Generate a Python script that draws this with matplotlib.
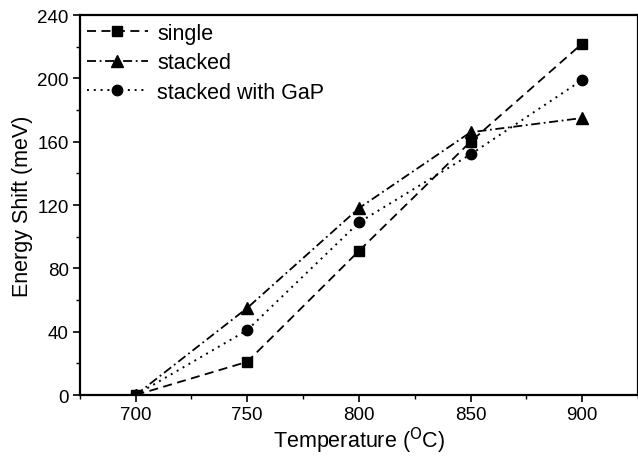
import matplotlib
matplotlib.use('Agg')
import matplotlib.pyplot as plt
from matplotlib.ticker import MultipleLocator

temps = [700, 750, 800, 850, 900]
single = [0, 21, 91, 160, 222]
stacked = [0, 55, 118, 166, 175]
stacked_gap = [0, 41, 109, 152, 199]

plt.rcParams['font.family'] = ['Liberation Sans', 'DejaVu Sans']

fig = plt.figure(figsize=(6.38, 4.6), dpi=100)
ax = fig.add_axes([0.125, 0.139, 0.875, 0.826])

ax.plot(temps, single, color='black', ls=(0, (5, 3)), lw=1.3,
        marker='s', ms=7, label='single')
ax.plot(temps, stacked, color='black', ls=(0, (5, 2, 1, 2)), lw=1.3,
        marker='^', ms=8, label='stacked')
ax.plot(temps, stacked_gap, color='black', ls=(0, (1, 2.5)), lw=1.4,
        marker='o', ms=7.5, label='stacked with GaP')

ax.set_xlim(675, 925)
ax.set_ylim(0, 240)
ax.xaxis.set_major_locator(MultipleLocator(50))
ax.xaxis.set_minor_locator(MultipleLocator(25))
ax.yaxis.set_major_locator(MultipleLocator(40))
ax.yaxis.set_minor_locator(MultipleLocator(20))
ax.tick_params(which='major', direction='out', length=5, width=1.2,
               labelsize=13.5, pad=3)
ax.tick_params(which='minor', direction='out', length=3, width=1)
for s in ax.spines.values():
    s.set_linewidth(1.6)

ax.set_xlabel('Temperature ($^{\\rm O}$C)', fontsize=15.5, labelpad=1)
ax.set_ylabel('Energy Shift (meV)', fontsize=15.5, labelpad=3)

ax.legend(loc='upper left', frameon=False, fontsize=15.5, handlelength=2.8,
          handletextpad=0.45, labelspacing=0.4, borderaxespad=0.1,
          borderpad=0.25)

fig.savefig('out.png', dpi=100)
